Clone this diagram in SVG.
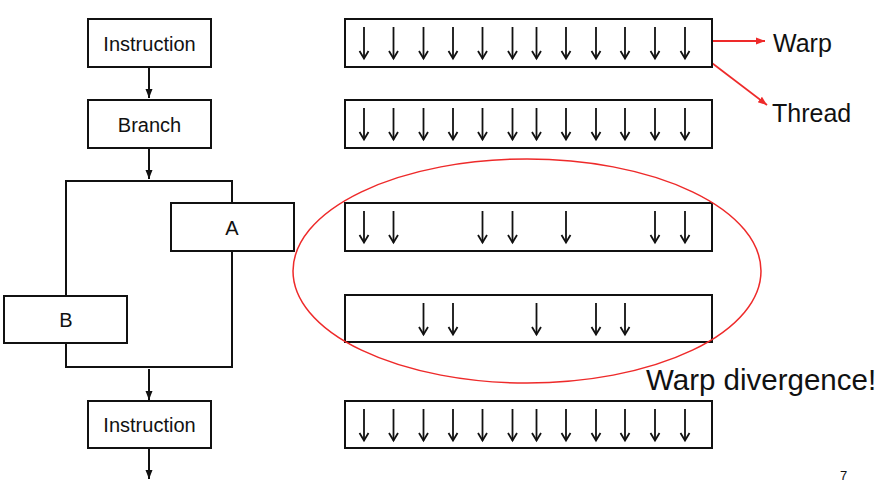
<svg xmlns="http://www.w3.org/2000/svg" width="879" height="483" viewBox="0 0 879 483">
<defs>
<marker id="ah" markerWidth="12" markerHeight="12" refX="10" refY="6" orient="auto" markerUnits="userSpaceOnUse" viewBox="0 0 12 12">
<path d="M2.5,1.5 L10,6 L2.5,10.5" fill="none" stroke="#111" stroke-width="1.8"/>
</marker>
<marker id="fh" markerWidth="10" markerHeight="10" refX="9" refY="5" orient="auto" markerUnits="userSpaceOnUse" viewBox="0 0 10 10">
<path d="M0,1.5 L9,5 L0,8.5 Z" fill="#111"/>
</marker>
<marker id="rh" markerWidth="10" markerHeight="10" refX="9" refY="5" orient="auto" markerUnits="userSpaceOnUse" viewBox="0 0 10 10">
<path d="M0,1.5 L9,5 L0,8.5 Z" fill="#ee2a2a"/>
</marker>
<symbol id="t" overflow="visible">
<line x1="0" y1="0" x2="0" y2="31.5" stroke="#111" stroke-width="1.8" marker-end="url(#ah)"/>
</symbol>
</defs>
<style>
.box{fill:#fff;stroke:#111;stroke-width:2}
.lbl{font-family:"Liberation Sans",Arial,sans-serif;font-size:20px;fill:#111;text-anchor:middle}
.ln{fill:none;stroke:#111;stroke-width:2}
.red{fill:none;stroke:#ee2a2a;stroke-width:1.8}
.big{font-family:"Liberation Sans",Arial,sans-serif;fill:#111}
</style>
<rect width="879" height="483" fill="#fff"/>

<g id="connectors">
<line class="ln" x1="149" y1="67" x2="149" y2="98" marker-end="url(#fh)"/>
<line class="ln" x1="149" y1="148" x2="149" y2="179" marker-end="url(#fh)"/>
<polyline class="ln" points="66,296 66,181 232,181 232,203"/>
<polyline class="ln" points="66,343 66,367 232,367 232,251"/>
<line class="ln" x1="149" y1="369" x2="149" y2="400" marker-end="url(#fh)"/>
<line class="ln" x1="149" y1="448" x2="149" y2="479" marker-end="url(#fh)"/>
<line class="red" x1="713" y1="41" x2="765" y2="41" marker-end="url(#rh)"/>
<line class="red" x1="687" y1="44" x2="767" y2="105" marker-end="url(#rh)"/>
</g>

<g id="instruction1"><rect class="box" x="88" y="19" width="123" height="48"/><text class="lbl" x="149.5" y="51">Instruction</text></g>
<g id="branch"><rect class="box" x="88" y="100" width="123" height="48"/><text class="lbl" x="149.5" y="132">Branch</text></g>
<g id="nodeA"><rect class="box" x="171" y="203" width="123" height="48"/><text class="lbl" x="232" y="235">A</text></g>
<g id="nodeB"><rect class="box" x="4" y="296" width="123" height="47"/><text class="lbl" x="66" y="327">B</text></g>
<g id="instruction2"><rect class="box" x="88" y="401" width="123" height="47"/><text class="lbl" x="149.5" y="432">Instruction</text></g>

<g id="warp1"><rect class="box" x="345" y="19" width="367" height="48"/>
<g transform="translate(0,27)"><use href="#t" x="364"/><use href="#t" x="393.5"/><use href="#t" x="423.5"/><use href="#t" x="453"/><use href="#t" x="482.5"/><use href="#t" x="512.5"/><use href="#t" x="536.5"/><use href="#t" x="566"/><use href="#t" x="596"/><use href="#t" x="625"/><use href="#t" x="655"/><use href="#t" x="685"/></g></g>
<g id="warp2"><rect class="box" x="345" y="100" width="367" height="48"/>
<g transform="translate(0,108)"><use href="#t" x="364"/><use href="#t" x="393.5"/><use href="#t" x="423.5"/><use href="#t" x="453"/><use href="#t" x="482.5"/><use href="#t" x="512.5"/><use href="#t" x="536.5"/><use href="#t" x="566"/><use href="#t" x="596"/><use href="#t" x="625"/><use href="#t" x="655"/><use href="#t" x="685"/></g></g>
<g id="warp3"><rect class="box" x="345" y="203" width="367" height="48"/>
<g transform="translate(0,211)"><use href="#t" x="364"/><use href="#t" x="393.5"/><use href="#t" x="482.5"/><use href="#t" x="512.5"/><use href="#t" x="566"/><use href="#t" x="655"/><use href="#t" x="685"/></g></g>
<g id="warp4"><rect class="box" x="345" y="295" width="367" height="47"/>
<g transform="translate(0,303)"><use href="#t" x="423.5"/><use href="#t" x="453"/><use href="#t" x="536.5"/><use href="#t" x="596"/><use href="#t" x="625"/></g></g>
<g id="warp5"><rect class="box" x="345" y="401" width="367" height="47"/>
<g transform="translate(0,409)"><use href="#t" x="364"/><use href="#t" x="393.5"/><use href="#t" x="423.5"/><use href="#t" x="453"/><use href="#t" x="482.5"/><use href="#t" x="512.5"/><use href="#t" x="536.5"/><use href="#t" x="566"/><use href="#t" x="596"/><use href="#t" x="625"/><use href="#t" x="655"/><use href="#t" x="685"/></g></g>

<g id="divergence"><ellipse cx="527" cy="271" rx="234" ry="112" fill="none" stroke="#ee2a2a" stroke-width="1.5"/></g>

<g id="labels">
<text class="big" x="773" y="52" font-size="25">Warp</text>
<text class="big" x="772" y="122" font-size="25">Thread</text>
<text class="big" x="646" y="390" font-size="29.5">Warp divergence!</text>
<text class="big" x="840" y="480" font-size="13">7</text>
</g>
</svg>
